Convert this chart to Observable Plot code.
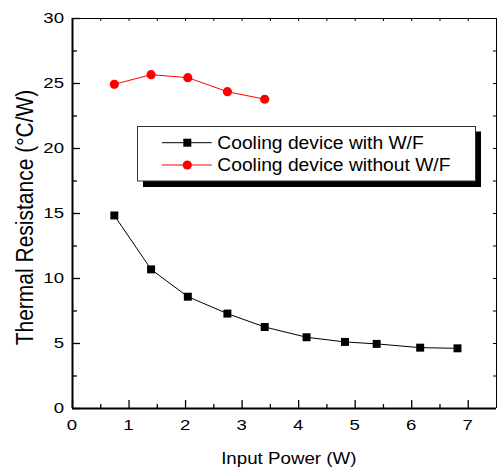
<!DOCTYPE html>
<html><head><meta charset="utf-8">
<script src="https://cdn.jsdelivr.net/npm/d3@7"></script>
<script src="https://cdn.jsdelivr.net/npm/@observablehq/plot@0.6"></script>
<style>html,body{margin:0;padding:0;background:#fff;} svg{display:block}</style>
</head><body><div id="chart"></div>
<script>
// ---- data ----
const powerWith = [0.74, 1.39, 2.04, 2.74, 3.40, 4.14, 4.82, 5.38, 6.15, 6.81];
const resistWith = [14.85, 10.70, 8.60, 7.30, 6.27, 5.48, 5.12, 4.97, 4.68, 4.63];
const powerWithout = [0.74, 1.39, 2.04, 2.74, 3.40];
const resistWithout = [24.94, 25.68, 25.45, 24.37, 23.79];
const seriesNames = ["Cooling device with W/F", "Cooling device without W/F"];
const seriesColors = ["#000000", "#ff0000"];
const xTicks = [0, 1, 2, 3, 4, 5, 6, 7];
const yTicks = [0, 5, 10, 15, 20, 25, 30];
const xTitle = "Input Power (W)";
const yTitle = "Thermal Resistance (°C/W)";

const xMinor = d3.range(0.5, 7.5, 1);
const xTop = d3.range(0.5, 7.5, 0.5);
const yMinor = d3.range(2.5, 30, 5);
const yRight = d3.range(2.5, 30, 2.5);

const withData = powerWith.map((p, i) => ({p, r: resistWith[i]}));
const withoutData = powerWithout.map((p, i) => ({p, r: resistWithout[i]}));

const FONT = "'Liberation Sans', Arial, Helvetica, sans-serif";
const W = 497, H = 468;

const chart = Plot.plot({
  width: W, height: H,
  marginLeft: 72, marginRight: 1, marginTop: 18, marginBottom: 60,
  x: {domain: [0, 7.5], axis: null},
  y: {domain: [0, 30], axis: null},
  style: {fontFamily: FONT, background: "#fff", color: "#000", overflow: "visible"},
  marks: [
    Plot.tickX(xTicks, {x: d => d, insetTop: 382, stroke: "#000", strokeWidth: 1.3}),
    Plot.tickX(xMinor, {x: d => d, insetTop: 386, stroke: "#000", strokeWidth: 1.3}),
    Plot.tickX(xTop, {x: d => d, insetBottom: 387, stroke: "#000", strokeWidth: 1}),
    Plot.tickY(yTicks, {y: d => d, insetRight: 416, stroke: "#000", strokeWidth: 1.3}),
    Plot.tickY(yMinor, {y: d => d, insetRight: 419, stroke: "#000", strokeWidth: 1.3}),
    Plot.tickY(yRight, {y: d => d, insetLeft: 421, stroke: "#000", strokeWidth: 1}),
    Plot.ruleY([30], {stroke: "#000", strokeWidth: 1}),
    Plot.ruleX([7.5], {stroke: "#000", strokeWidth: 1}),
    Plot.ruleX([0], {stroke: "#000", strokeWidth: 2}),
    Plot.ruleY([0], {stroke: "#000", strokeWidth: 2}),
    Plot.line(withData, {x: "p", y: "r", stroke: seriesColors[0], strokeWidth: 1}),
    Plot.dot(withData, {x: "p", y: "r", symbol: "square", r: 4.5, fill: seriesColors[0], stroke: null}),
    Plot.line(withoutData, {x: "p", y: "r", stroke: seriesColors[1], strokeWidth: 1}),
    Plot.dot(withoutData, {x: "p", y: "r", symbol: "circle", r: 4.6, fill: seriesColors[1], stroke: null})
  ]
});
document.getElementById("chart").appendChild(chart);

const svg = d3.select(chart);
const sx = chart.scale("x"), sy = chart.scale("y");

// tick labels (through Plot's scales); reference glyphs are horizontally wide
const xl = svg.append("g").attr("font-family", FONT).attr("font-size", 14).attr("fill", "#000").attr("text-anchor", "middle");
xTicks.forEach(v => {
  xl.append("text")
    .attr("transform", `translate(${sx.apply(v)},${sy.apply(0) + 12}) scale(1.33,1)`)
    .attr("dy", "0.71em")
    .text(String(v));
});
const yl = svg.append("g").attr("font-family", FONT).attr("font-size", 14).attr("fill", "#000").attr("text-anchor", "end");
yTicks.forEach(v => {
  yl.append("text")
    .attr("transform", `translate(${sx.apply(0) - 8},${sy.apply(v)}) scale(1.33,1)`)
    .attr("dy", "0.35em")
    .text(String(v));
});

// axis titles
svg.append("text")
  .attr("transform", "translate(288.8,464) scale(1.15,1)")
  .attr("text-anchor", "middle")
  .attr("font-family", FONT).attr("font-size", 16.3).attr("fill", "#000")
  .text(xTitle);
svg.append("text")
  .attr("transform", "translate(32.7,217.5) rotate(-90) scale(1,1.12)")
  .attr("text-anchor", "middle")
  .attr("font-family", FONT).attr("font-size", 21).attr("fill", "#000")
  .text(yTitle);

// legend
const lg = svg.append("g");
lg.append("rect").attr("x", 143).attr("y", 131.5).attr("width", 338).attr("height", 55.5).attr("fill", "#000");
lg.append("rect").attr("x", 137.5).attr("y", 126.5).attr("width", 338).attr("height", 54.5)
  .attr("fill", "#fff").attr("stroke", "#333").attr("stroke-width", 1);
const rowsY = [142.7, 165];
seriesNames.forEach((name, i) => {
  const y = rowsY[i];
  lg.append("line").attr("x1", 162).attr("x2", 211.7).attr("y1", y).attr("y2", y)
    .attr("stroke", seriesColors[i]).attr("stroke-width", 1);
  if (i === 0) {
    lg.append("rect").attr("x", 187.3 - 4).attr("y", y - 4).attr("width", 8).attr("height", 8).attr("fill", seriesColors[i]);
  } else {
    lg.append("circle").attr("cx", 187.3).attr("cy", y).attr("r", 4.6).attr("fill", seriesColors[i]);
  }
  lg.append("text")
    .attr("transform", `translate(217.3,${y}) scale(1.07,1)`)
    .attr("dy", "0.36em")
    .attr("text-anchor", "start")
    .attr("font-family", FONT).attr("font-size", 18).attr("fill", "#000")
    .text(name);
});
</script>
</body></html>
